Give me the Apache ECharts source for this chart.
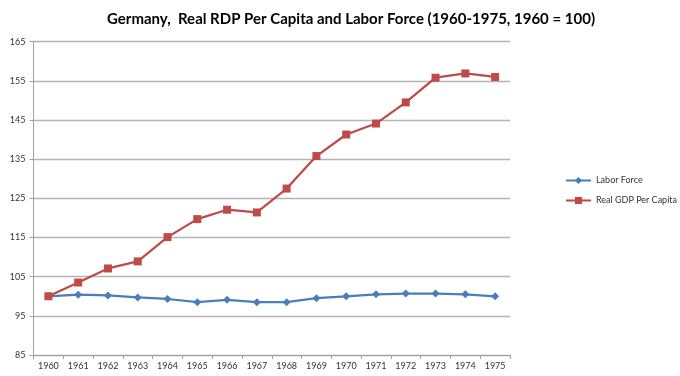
<!DOCTYPE html>
<html>
<head>
<meta charset="utf-8">
<script src="https://cdn.jsdelivr.net/npm/echarts@6/dist/echarts.min.js"></script>
<style>html,body{margin:0;padding:0;background:#fff}#c{width:680px;height:376px}</style>
</head>
<body>
<div id="c"></div>
<script>
var years = ['1960','1961','1962','1963','1964','1965','1966','1967','1968','1969','1970','1971','1972','1973','1974','1975'];
var laborForce = [100.0, 100.4, 100.2, 99.7, 99.3, 98.5, 99.1, 98.5, 98.5, 99.5, 100.0, 100.5, 100.7, 100.7, 100.5, 100.0];
var realGdpPerCapita = [100.0, 103.5, 107.1, 108.9, 115.1, 119.7, 122.1, 121.4, 127.5, 135.8, 141.3, 144.1, 149.5, 155.8, 156.9, 156.0];
var yTicks = [85, 95, 105, 115, 125, 135, 145, 155, 165];
var titleText = 'Germany,  Real RDP Per Capita and Labor Force (1960-1975, 1960 = 100)';

var chart = echarts.init(document.getElementById('c'), null, {renderer: 'canvas'});
var font = 'Lato';
chart.setOption({
  animation: false,
  backgroundColor: '#ffffff',
  title: {
    text: titleText,
    left: 346, top: 7, textAlign: 'center',
    textStyle: {fontFamily: font, fontSize: 15, fontWeight: 'bold', color: '#000'}
  },
  legend: {
    orient: 'vertical',
    left: 560, top: 171, right: 0,
    itemWidth: 25, itemHeight: 9, itemGap: 11,
    textStyle: {fontFamily: font, fontSize: 9, color: '#333'},
    data: ['Labor Force', 'Real GDP Per Capita']
  },
  grid: {left: 33.5, right: 170, top: 41.7, bottom: 21},
  xAxis: {
    type: 'category',
    data: years,
    boundaryGap: true,
    axisLine: {lineStyle: {color: '#a0a0a0', width: 1}},
    axisTick: {show: true, length: 4, lineStyle: {color: '#a0a0a0'}},
    axisLabel: {fontFamily: font, fontSize: 9, color: '#333', margin: 7}
  },
  yAxis: {
    type: 'value',
    min: yTicks[0], max: yTicks[yTicks.length - 1], interval: 10,
    axisLine: {show: true, lineStyle: {color: '#a0a0a0', width: 1}},
    axisTick: {show: true, length: 4, lineStyle: {color: '#a0a0a0'}},
    axisLabel: {fontFamily: font, fontSize: 9, color: '#333', margin: 8},
    splitLine: {lineStyle: {color: '#b4b4b4', width: 1.3}}
  },
  series: [
    {
      name: 'Labor Force', type: 'line', data: laborForce,
      symbol: 'diamond', symbolSize: 8,
      lineStyle: {color: '#4a7ebb', width: 2.25},
      itemStyle: {color: '#4a7ebb'}
    },
    {
      name: 'Real GDP Per Capita', type: 'line', data: realGdpPerCapita,
      symbol: 'rect', symbolSize: 8,
      lineStyle: {color: '#be4b48', width: 2.25},
      itemStyle: {color: '#be4b48'}
    }
  ]
});
</script>
</body>
</html>
